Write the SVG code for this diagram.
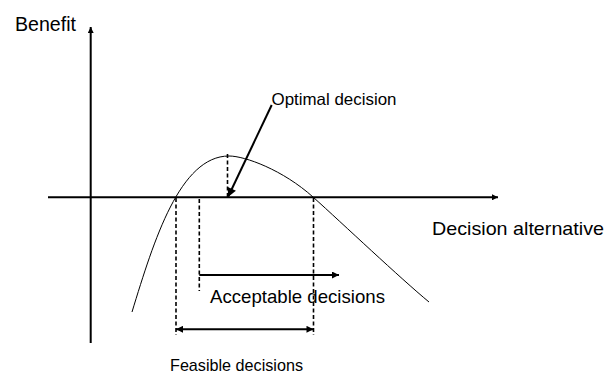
<svg xmlns="http://www.w3.org/2000/svg" width="614" height="374" viewBox="0 0 614 374">
  <style>
    text { font-family: "Liberation Sans", Arial, sans-serif; fill: #000; }
    .axis { stroke: #000; stroke-width: 2; fill: none; }
    .curve { stroke: #000; stroke-width: 1; fill: none; }
    .dash { stroke: #000; stroke-width: 1.6; stroke-dasharray: 4 2.5; fill: none; }
    .arrow { stroke: #000; stroke-width: 2; fill: none; }
  </style>
  <defs>
    <marker id="ah" viewBox="0 0 10 10" refX="10" refY="5" markerWidth="9" markerHeight="7" markerUnits="userSpaceOnUse" orient="auto-start-reverse">
      <path d="M0,0 L10,5 L0,10 z" fill="#000"/>
    </marker>
    <marker id="ahs" viewBox="0 0 10 10" refX="10" refY="5" markerWidth="7" markerHeight="6" markerUnits="userSpaceOnUse" orient="auto">
      <path d="M0,0 L10,5 L0,10 z" fill="#000"/>
    </marker>
    <marker id="ahb" viewBox="0 0 10 10" refX="10" refY="5" markerWidth="12" markerHeight="9" markerUnits="userSpaceOnUse" orient="auto">
      <path d="M0,0 L10,5 L0,10 z" fill="#000"/>
    </marker>
  </defs>

  <g id="axes">
    <line class="axis" x1="90.7" y1="343" x2="90.7" y2="27" marker-end="url(#ahs)"/>
    <line class="axis" x1="48" y1="197.3" x2="498" y2="197.3" marker-end="url(#ahs)"/>
  </g>

  <g id="benefit-curve">
    <path class="curve" d="M132,312 C154,240 180,156 229,156 C245,156 283,170 313,197 S400,278 429,302"/>
  </g>

  <g id="connectors">
    <line class="dash" x1="176" y1="198" x2="176" y2="335"/>
    <line class="dash" x1="199.3" y1="199" x2="199.3" y2="291"/>
    <line class="dash" x1="313.5" y1="198" x2="313.5" y2="335"/>
    <line class="dash" x1="227.5" y1="154" x2="227.5" y2="197"/>
    <line class="arrow" x1="199.3" y1="275" x2="339" y2="275" marker-end="url(#ah)"/>
    <line class="arrow" x1="176" y1="329.3" x2="313.5" y2="329.3" marker-start="url(#ah)" marker-end="url(#ah)"/>
    <line class="arrow" stroke-width="2.5" x1="271.7" y1="105" x2="228" y2="197" marker-end="url(#ahb)"/>
  </g>

  <g id="labels">
    <text id="benefit" x="15" y="31" font-size="19.5" textLength="61" lengthAdjust="spacingAndGlyphs">Benefit</text>
    <text id="optimal" x="271.5" y="105" font-size="16.5" textLength="125" lengthAdjust="spacingAndGlyphs">Optimal decision</text>
    <text id="decision-alt" x="432" y="235" font-size="19" textLength="172" lengthAdjust="spacingAndGlyphs">Decision alternative</text>
    <text id="acceptable" x="210" y="303" font-size="19" textLength="175" lengthAdjust="spacingAndGlyphs">Acceptable decisions</text>
    <text id="feasible" x="170" y="370.5" font-size="16.2" textLength="133" lengthAdjust="spacingAndGlyphs">Feasible decisions</text>
  </g>
</svg>
